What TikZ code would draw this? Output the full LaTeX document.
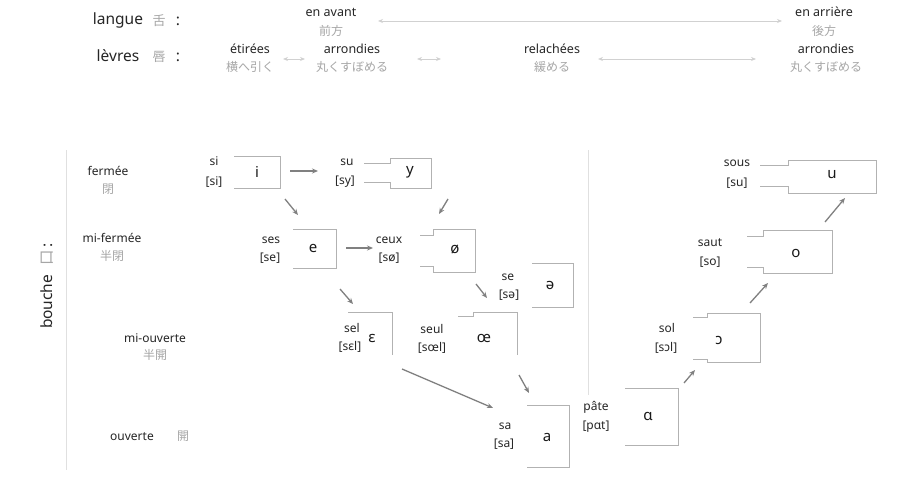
\documentclass[tikz,border=0pt]{standalone}
\usepackage{fontspec}
\setmainfont{Noto Sans}
\newfontfamily\jp{Noto Sans CJK JP}
\usetikzlibrary{arrows.meta}
\begin{document}
\begin{tikzpicture}[x=1pt,y=-1pt,
  lbl/.style={font=\fontsize{12}{13}\selectfont, text=black!85, inner sep=0pt},
  hdr/.style={font=\fontsize{12.5}{13}\selectfont, text=black!85, inner sep=0pt},
  big/.style={font=\fontsize{15.5}{16}\selectfont, text=black!85, inner sep=0pt},
  jpt/.style={font=\jp\fontsize{12}{13}\selectfont, text=black!35, inner sep=0pt},
  vow/.style={font=\fontsize{15}{16}\selectfont, text=black!90, inner sep=0pt},
  boxline/.style={draw=black!30, line width=0.9pt},
  guide/.style={draw=black!12, line width=0.6pt},
  arr/.style={draw=black!50, line width=1.3pt, -{Stealth[length=6pt,width=5pt]}},
  faint/.style={draw=black!18, line width=0.8pt, {Stealth[length=5pt,width=4pt]}-{Stealth[length=5pt,width=4pt]}}]
\useasboundingbox (0,0) rectangle (923,484);
\fill[white] (0,0) rectangle (923,484);
% header
\node[big] (langue) at (118,20) {langue};
\node[jpt,font=\jp\fontsize{13}{14}\selectfont] (shita) at (159,21) {舌};
\node[big] (c1) at (178,21) {:};
\node[hdr] (avant) at (331,12) {en avant};
\node[jpt] (avantj) at (331,31) {前方};
\node[hdr] (arriere) at (824,12) {en arrière};
\node[jpt] (arrierej) at (824,31) {後方};
\coordinate (l1) at (378,21); \coordinate (l2) at (782,21);
\draw[faint] (l1) -- (l2);
\node[big] (levres) at (118,56) {lèvres};
\node[jpt,font=\jp\fontsize{13}{14}\selectfont] (kuchi) at (159,57) {唇};
\node[big] (c2) at (178,57) {:};
\node[hdr] (etirees) at (250,49) {étirées};
\node[jpt] (etireesj) at (250,67) {横へ引く};
\node[hdr] (arr1) at (352,49) {arrondies};
\node[jpt] (arr1j) at (352,67) {丸くすぼめる};
\node[hdr] (relach) at (552,49) {relachées};
\node[jpt] (relachj) at (552,67) {緩める};
\node[hdr] (arr2) at (826,49) {arrondies};
\node[jpt] (arr2j) at (826,67) {丸くすぼめる};
\coordinate (e1) at (283,59); \coordinate (e2) at (305,59);
\draw[faint] (e1) -- (e2);
\coordinate (r1) at (417,59); \coordinate (r2) at (441,59);
\draw[faint] (r1) -- (r2);
\coordinate (s1) at (598,59); \coordinate (s2) at (756,59);
\draw[faint] (s1) -- (s2);
% left axis
\coordinate (g1) at (66,150); \coordinate (g2) at (66,470);
\draw[guide] (g1) -- (g2);
\coordinate (g3) at (588,150); \coordinate (g4) at (588,395);
\draw[guide] (g3) -- (g4);
\node[big,rotate=90] (bouche) at (47,286) {bouche\hspace{9pt}{\jp\color{black!35}口}\hspace{3pt}:};
\node[lbl] (ferm) at (108,171) {fermée};
\node[jpt] (fermj) at (108,189) {閉};
\node[lbl] (mif) at (112,238) {mi-fermée};
\node[jpt] (mifj) at (112,256) {半閉};
\node[lbl] (mio) at (155,338) {mi-ouverte};
\node[jpt] (mioj) at (155,355) {半開};
\node[lbl] (ouv) at (132,437) {ouverte};
\node[jpt] (ouvj) at (183,436) {開};
% boxes
% i
\draw[boxline] (234,156) -- (280,156) -- (280,188) -- (234,188);
\node[lbl] at (214,161) {si}; \node[lbl] at (214,182) {[si]};
\node[vow] (i) at (257,172) {i};
% y
\draw[boxline] (364,163) -- (390,163) -- (390,158) -- (431,158) -- (431,188) -- (390,188) -- (390,182) -- (364,182);
\node[lbl] at (347,162) {su}; \node[lbl] at (345,182) {[sy]};
\node[vow] (y) at (410,172) {y};
% e
\draw[boxline] (293,229) -- (336,229) -- (336,268) -- (293,268);
\node[lbl] at (271,240) {ses}; \node[lbl] at (270,258) {[se]};
\node[vow] (e) at (313,248) {e};
% o slash
\draw[boxline] (420,235) -- (433,235) -- (433,229) -- (475,229) -- (475,272) -- (433,272) -- (433,266) -- (420,266);
\node[lbl] at (389,240) {ceux}; \node[lbl] at (389,258) {[sø]};
\node[vow] (oslash) at (455,250) {ø};
% schwa
\draw[boxline] (532,263) -- (573,263) -- (573,307) -- (532,307);
\node[lbl] at (508,277) {se}; \node[lbl] at (509,295) {[sə]};
\node[vow] (schwa) at (550,285) {ə};
% epsilon
\draw[boxline] (348,312) -- (392,312) -- (392,355);
\node[lbl] at (352,328) {sel}; \node[lbl] at (350,347) {[sɛl]};
\node[vow] (eps) at (372,338) {ɛ};
% oe ligature
\draw[boxline] (458,316) -- (473,316) -- (473,312) -- (517,312) -- (517,355);
\node[lbl] at (432,329) {seul}; \node[lbl] at (432,348) {[sœl]};
\node[vow] (oe) at (484,338) {œ};
% a
\draw[boxline] (527,405) -- (569,405) -- (569,467) -- (527,467);
\node[lbl] at (505,426) {sa}; \node[lbl] at (504,444) {[sa]};
\node[vow] (a) at (547,437) {a};
% alpha
\draw[boxline] (625,388) -- (678,388) -- (678,445) -- (625,445);
\node[lbl] at (596,407) {pâte}; \node[lbl] at (596,427) {[pɑt]};
\node[vow] (alpha) at (648,416) {ɑ};
% open o
\draw[boxline] (693,317) -- (707,317) -- (707,313) -- (760,313) -- (760,362) -- (707,362) -- (707,359) -- (693,359);
\node[lbl] at (667,328) {sol}; \node[lbl] at (666,348) {[sɔl]};
\node[vow] (openo) at (719,340) {ɔ};
% o
\draw[boxline] (747,236) -- (763,236) -- (763,230) -- (832,230) -- (832,273) -- (763,273) -- (763,267) -- (747,267);
\node[lbl] at (710,243) {saut}; \node[lbl] at (710,262) {[so]};
\node[vow] (o) at (796,253) {o};
% u
\draw[boxline] (760,165) -- (788,165) -- (788,160) -- (876,160) -- (876,193) -- (788,193) -- (788,186) -- (760,186);
\node[lbl] at (737,163) {sous}; \node[lbl] at (737,183) {[su]};
\node[vow] (u) at (832,175) {u};
% arrows
\coordinate (a1s) at (290,171); \coordinate (a1e) at (318,171);
\draw[arr] (a1s) -- (a1e);
\coordinate (a2s) at (346,248); \coordinate (a2e) at (373,248);
\draw[arr] (a2s) -- (a2e);
\coordinate (a3s) at (285,199); \coordinate (a3e) at (298,215);
\draw[arr] (a3s) -- (a3e);
\coordinate (a4s) at (448,199); \coordinate (a4e) at (439,214);
\draw[arr] (a4s) -- (a4e);
\coordinate (a5s) at (340,289); \coordinate (a5e) at (353,304);
\draw[arr] (a5s) -- (a5e);
\coordinate (a6s) at (476,284); \coordinate (a6e) at (487,298);
\draw[arr] (a6s) -- (a6e);
\coordinate (a7s) at (519,375); \coordinate (a7e) at (529,393);
\draw[arr] (a7s) -- (a7e);
\coordinate (a8s) at (402,369); \coordinate (a8e) at (493,408);
\draw[arr] (a8s) -- (a8e);
\coordinate (a9s) at (684,383); \coordinate (a9e) at (695,370);
\draw[arr] (a9s) -- (a9e);
\coordinate (a10s) at (750,303); \coordinate (a10e) at (768,283);
\draw[arr] (a10s) -- (a10e);
\coordinate (a11s) at (825,222); \coordinate (a11e) at (845,198);
\draw[arr] (a11s) -- (a11e);
\end{tikzpicture}
\end{document}
